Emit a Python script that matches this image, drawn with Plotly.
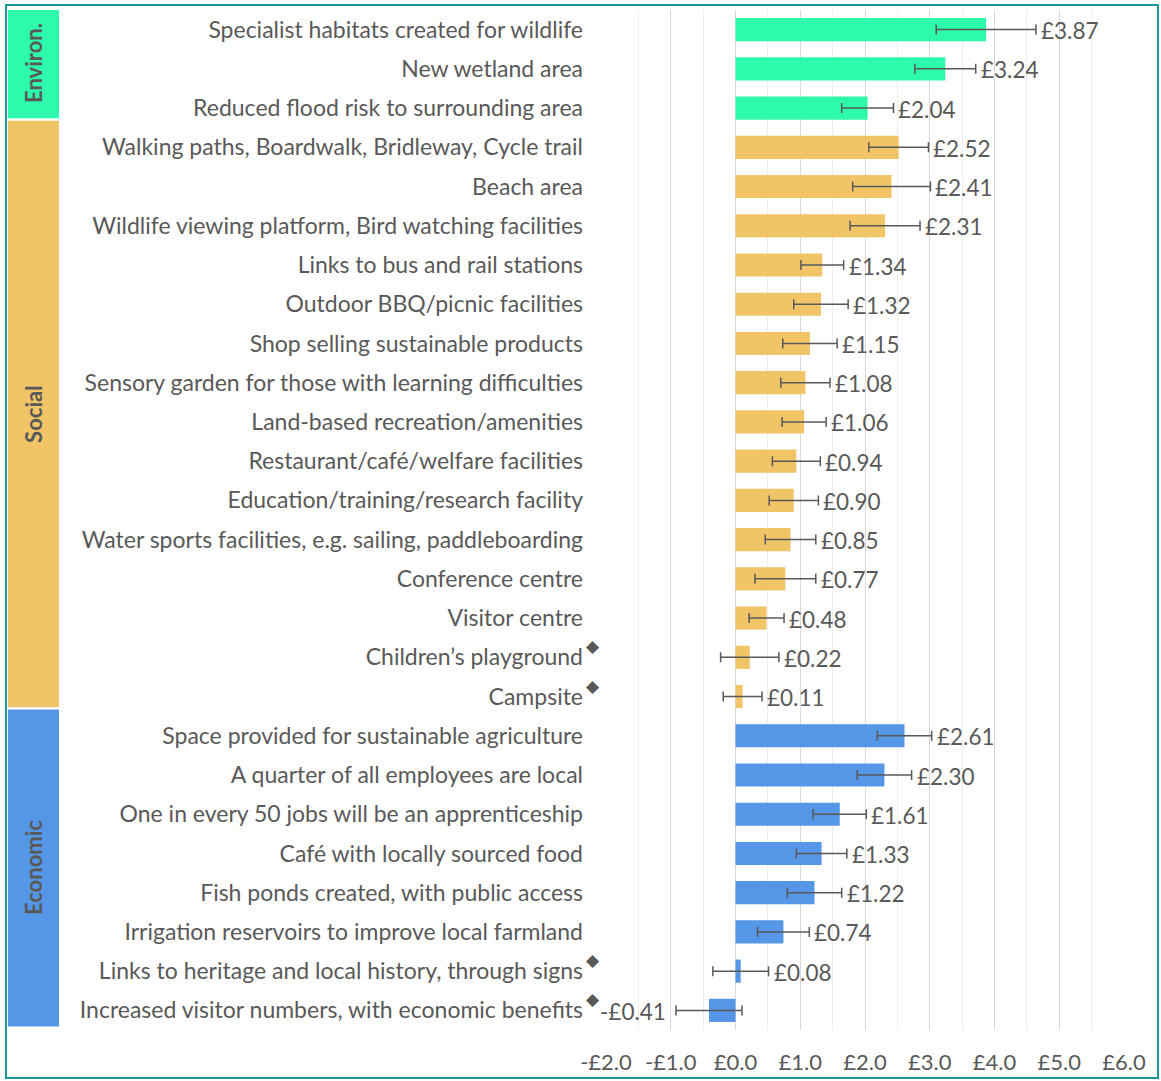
import plotly.graph_objects as go

# ---------------- data ----------------
labels = [
    "Specialist habitats created for wildlife",
    "New wetland area",
    "Reduced flood risk to surrounding area",
    "Walking paths, Boardwalk, Bridleway, Cycle trail",
    "Beach area",
    "Wildlife viewing platform, Bird watching facilities",
    "Links to bus and rail stations",
    "Outdoor BBQ/picnic facilities",
    "Shop selling sustainable products",
    "Sensory garden for those with learning difficulties",
    "Land-based recreation/amenities",
    "Restaurant/café/welfare facilities",
    "Education/training/research facility",
    "Water sports facilities, e.g. sailing, paddleboarding",
    "Conference centre",
    "Visitor centre",
    "Children’s playground",
    "Campsite",
    "Space provided for sustainable agriculture",
    "A quarter of all employees are local",
    "One in every 50 jobs will be an apprenticeship",
    "Café with locally sourced food",
    "Fish ponds created, with public access",
    "Irrigation reservoirs to improve local farmland",
    "Links to heritage and local history, through signs",
    "Increased visitor numbers, with economic benefits",
]
values = [3.87, 3.24, 2.04, 2.52, 2.41, 2.31, 1.34, 1.32, 1.15, 1.08, 1.06,
          0.94, 0.90, 0.85, 0.77, 0.48, 0.22, 0.11, 2.61, 2.30, 1.61, 1.33,
          1.22, 0.74, 0.08, -0.41]
errors = [0.77, 0.47, 0.40, 0.46, 0.60, 0.54, 0.33, 0.42, 0.42, 0.38, 0.34,
          0.37, 0.38, 0.39, 0.47, 0.27, 0.45, 0.30, 0.42, 0.42, 0.41, 0.39,
          0.42, 0.40, 0.43, 0.51]
group_names = ["Environ.", "Social", "Economic"]
group_sizes = [3, 15, 8]
group_colors = ["#2EFAAC", "#F1C468", "#5596E6"]
flagged = ["Children’s playground", "Campsite",
           "Links to heritage and local history, through signs",
           "Increased visitor numbers, with economic benefits"]
x_ticks = [-2, -1, 0, 1, 2, 3, 4, 5, 6]

# ---------------- layout constants ----------------
W, H = 1161, 1081
ML, MR, MT, MB = 606, 37, 10, 51
PW = W - ML - MR
PH = H - MT - MB
TEXT = "#595959"
FONT = "Lato, 'Open Sans', sans-serif"


def px_x(p):
    return (p - ML) / PW


def px_y(p):
    return 1 - (p - MT) / PH


bar_colors = []
for name, size, col in zip(group_names, group_sizes, group_colors):
    bar_colors += [col] * size

fig = go.Figure()
fig.add_trace(go.Bar(
    y=labels, x=values, orientation="h",
    marker=dict(color=bar_colors, line=dict(width=0)),
    width=0.59,
    error_x=dict(type="data", array=errors, visible=True,
                 color="#595959", thickness=1.5, width=5),
    hoverinfo="x+y",
))

annotations = []
# value labels
for lab, v, e in zip(labels, values, errors):
    txt = f"-£{abs(v):.2f}" if v < 0 else f"£{v:.2f}"
    if v >= 0:
        annotations.append(dict(x=v + e, y=lab, xref="x", yref="y", text=txt,
                                showarrow=False, xanchor="left", xshift=3,
                                yshift=-1,
                                font=dict(family=FONT, size=22.5, color=TEXT)))
    else:
        annotations.append(dict(x=v - e, y=lab, xref="x", yref="y", text=txt,
                                showarrow=False, xanchor="right", xshift=-8,
                                yshift=-1,
                                font=dict(family=FONT, size=22.5, color=TEXT)))

# diamonds for flagged items
for lab in flagged:
    annotations.append(dict(x=px_x(593), y=lab, xref="paper", yref="y",
                            text="◆", showarrow=False, yshift=11,
                            xanchor="center", yanchor="middle",
                            font=dict(family="DejaVu Sans", size=17, color=TEXT)))

# group bands
shapes = []
start = 0
band_offsets_top = [-0.06, -0.18, -0.17]
band_offsets_bot = [-0.24, -0.23, -0.09]
for i, (name, size, col) in enumerate(zip(group_names, group_sizes, group_colors)):
    y0 = start - 0.5 + band_offsets_top[i]
    y1 = start + size - 0.5 + band_offsets_bot[i]
    shapes.append(dict(type="rect", xref="paper", yref="y",
                       x0=px_x(8), x1=px_x(59), y0=y0, y1=y1,
                       fillcolor=col, line=dict(width=0), layer="below"))
    annotations.append(dict(x=px_x(34), y=(y0 + y1) / 2, xref="paper", yref="y",
                            text=f"<b>{name}</b>", showarrow=False, textangle=-90,
                            xanchor="center", yanchor="middle",
                            font=dict(family=FONT, size=22, color=TEXT)))
    start += size

# outer border
shapes.append(dict(type="rect", xref="paper", yref="paper",
                   x0=px_x(6), x1=px_x(1158), y0=px_y(5), y1=px_y(1078),
                   line=dict(color="#17999A", width=2), fillcolor="rgba(0,0,0,0)"))

fig.update_layout(
    width=W, height=H,
    margin=dict(l=ML, r=MR, t=MT, b=MB, autoexpand=False),
    paper_bgcolor="white", plot_bgcolor="white",
    showlegend=False,
    shapes=shapes,
    annotations=annotations,
    xaxis=dict(range=[-2, 6], tickvals=x_ticks,
               ticktext=[(f"-£{abs(t):.1f}" if t < 0 else f"£{t:.1f}") for t in x_ticks],
               showgrid=True, gridcolor="#D9D9D9", gridwidth=1,
               minor=dict(dtick=0.5, showgrid=True, gridcolor="#EDEDED"),
               zeroline=False, showline=False, ticks="",
               tickfont=dict(family=FONT, size=22, color=TEXT),
               ticklabelstandoff=17, automargin=False),
    yaxis=dict(categoryorder="array", categoryarray=labels,
               range=[len(labels) - 0.5, -0.5],
               showgrid=False, zeroline=False, showline=False, ticks="",
               tickfont=dict(family=FONT, size=23, color=TEXT),
               ticklabelstandoff=22, automargin=False),
    bargap=0.4,
)

fig.write_html("out.html", config={"displayModeBar": False},
               post_script="document.body.style.margin='0';")
